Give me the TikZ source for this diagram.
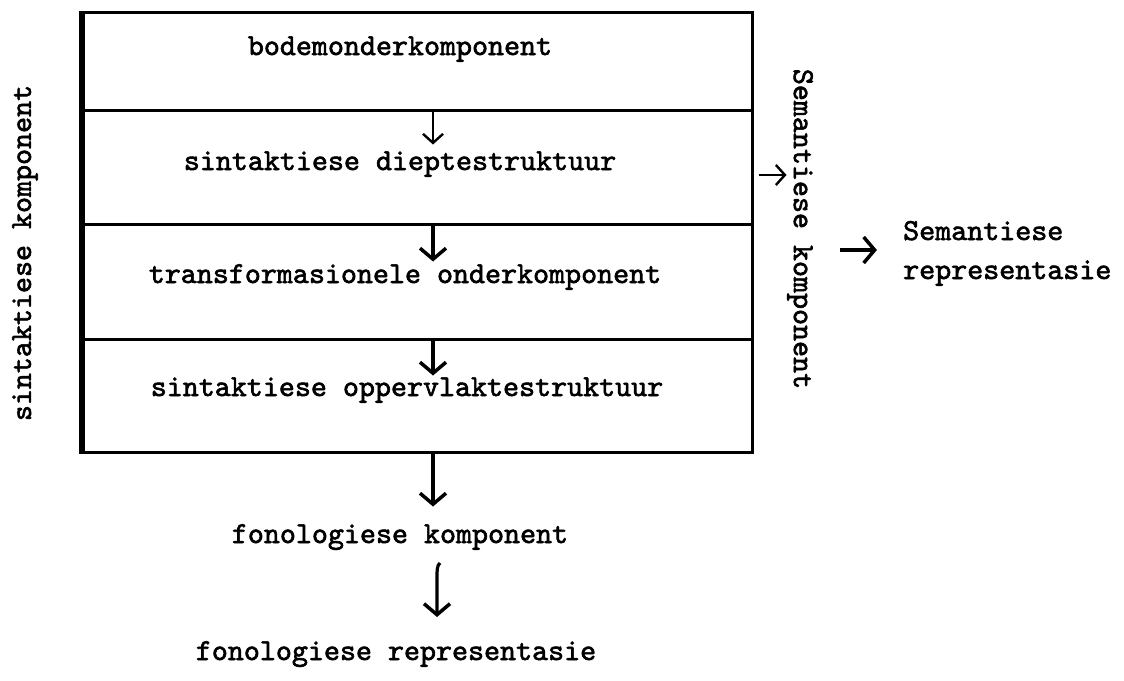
\documentclass[tikz,border=0pt]{standalone}
\usepackage{fontspec}
\setmonofont{lmmono10-regular.otf}[FakeBold=2]
\usetikzlibrary{arrows.meta}
\begin{document}
\begin{tikzpicture}[x=1pt,y=-1pt,
  tw/.style={font=\ttfamily\fontsize{30.5}{36}\selectfont, inner sep=0pt},
  band/.style={draw, line width=3pt, minimum width=669pt, inner sep=0pt},
  arr/.style={line width=3.2pt, -{Straight Barb[length=11pt,width=26pt,line width=3.5pt]}},
  arrthin/.style={line width=2pt, -{Straight Barb[length=9pt,width=20pt,line width=2.4pt]}},
]
\useasboundingbox (0,0) rectangle (1124,680);

% the four layers of the syntactic component
\node[band, minimum height=98pt]  (b1) at (417.5,61) {};
\node[band, minimum height=114pt] (b2) at (417.5,167) {};
\node[band, minimum height=115pt] (b3) at (417.5,281.5) {};
\node[band, minimum height=113pt] (b4) at (417.5,395.5) {};
\draw[line width=5pt] (b1.north west) -- (b4.south west);

\node[tw, anchor=base] (t1) at (400,55)  {bodemonderkomponent};
\node[tw, anchor=base] (t2) at (400,170) {sintaktiese dieptestruktuur};
\node[tw, anchor=base] (t3) at (405,283) {transformasionele onderkomponent};
\node[tw, anchor=base] (t4) at (407,396) {sintaktiese oppervlaktestruktuur};

% side labels
\node[tw, rotate=90]  (sk) at (25,253)  {sintaktiese komponent};
\node[tw, rotate=-90] (sem) at (800,229) {Semantiese komponent};
\node[tw, anchor=base west] (sr1) at (903,240) {Semantiese};
\node[tw, anchor=base west] (sr2) at (903,279) {representasie};

% phonological part
\node[tw, anchor=base] (f1) at (400,543) {fonologiese komponent};
\node[tw, anchor=base] (f2) at (396,660) {fonologiese representasie};

\coordinate (ax) at (433,0);
\coordinate (bx) at (437,0);

\draw[arrthin] (b1.south -| ax) -- ++(0,33);
\draw[arr] (b2.south -| ax) -- ++(0,36);
\draw[arr] (b3.south -| ax) -- ++(0,35);
\draw[arr] (b4.south -| ax) -- ++(0,53);
\draw[arr] (f1.base -| bx) ++(3,20) .. controls +(-3,2) and +(0,-6) .. ++(-3,14) -- ++(0,40);
\draw[arrthin] ([xshift=5pt,yshift=-8pt]b2.east) -- ++(28,0);
\draw[arr] (sem.south) ++(53,21) -- ++(37,0);
\end{tikzpicture}
\end{document}
